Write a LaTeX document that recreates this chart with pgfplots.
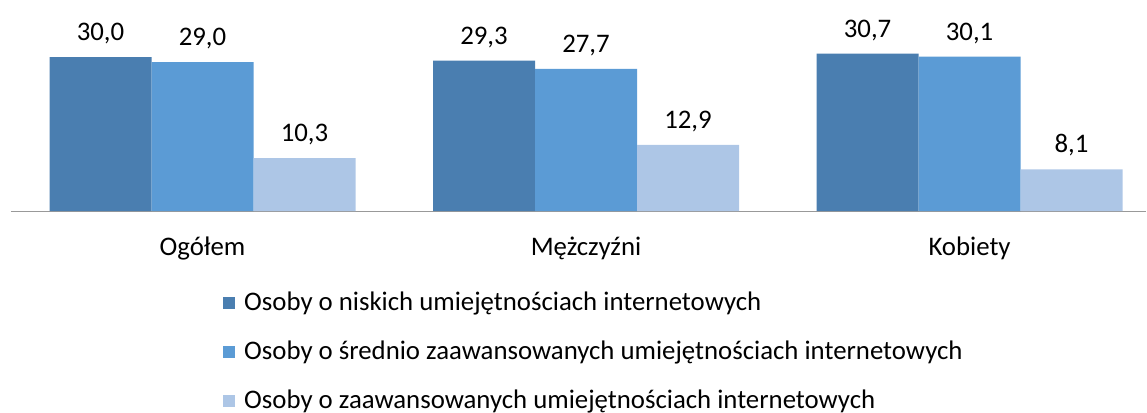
\documentclass[border=0pt]{standalone}
\usepackage{fontspec}
\setmainfont{Carlito}
\usepackage{pgfplots}
\pgfplotsset{compat=1.18}
\definecolor{c1}{HTML}{4A7EB0}
\definecolor{c2}{HTML}{5B9BD5}
\definecolor{c3}{HTML}{ADC6E6}
\begin{document}
\begin{tikzpicture}
\begin{axis}[
 at={(0,0)}, anchor=south west,
 x=191.75pt, y=2.565pt,
 xmin=-0.5, xmax=2.46, ymin=0, ymax=41.1,
 ybar=0pt, bar width=51pt,
 axis y line=none, axis x line*=bottom,
 x axis line style={-, draw=gray!80},
 xtick={0,1,2}, xticklabels={Ogółem, Mężczyźni, Kobiety},
 xtick style={draw=none},
 ytick=\empty,
 xticklabel style={font=\fontsize{13.4}{15.5}\selectfont, yshift=-5pt},
 nodes near coords,
 nodes near coords style={font=\fontsize{13.4}{15.5}\selectfont, yshift=3pt},
 /pgf/number format/.cd, fixed, fixed zerofill, precision=1, use comma, assume math mode=true,
 /pgfplots/.cd,
 legend style={at={(0.1815,-0.345)}, anchor=north west, draw=none, fill=none,
   font=\fontsize{13.4}{15.5}\selectfont, cells={anchor=west}, row sep=9.6pt,
   /tikz/every odd column/.append style={column sep=2.5pt}},
 clip=false,
]
\addplot[fill=c1, draw=none, legend image code/.code={\fill[c1] (0pt,-3pt) rectangle (6pt,3pt);}] coordinates {(0,30.0) (1,29.3) (2,30.7)};
\addplot[fill=c2, draw=none, legend image code/.code={\fill[c2] (0pt,-3pt) rectangle (6pt,3pt);}] coordinates {(0,29.0) (1,27.7) (2,30.1)};
\addplot[fill=c3, draw=none, legend image code/.code={\fill[c3] (0pt,-3pt) rectangle (6pt,3pt);}] coordinates {(0,10.3) (1,12.9) (2,8.1)};
\legend{Osoby o niskich umiejętnościach internetowych, Osoby o średnio zaawansowanych umiejętnościach internetowych, Osoby o zaawansowanych umiejętnościach internetowych}
\end{axis}
\pgfresetboundingbox
\path (-5.375pt,-100.5pt) rectangle (568.1pt,105.5pt);
\end{tikzpicture}
\end{document}
